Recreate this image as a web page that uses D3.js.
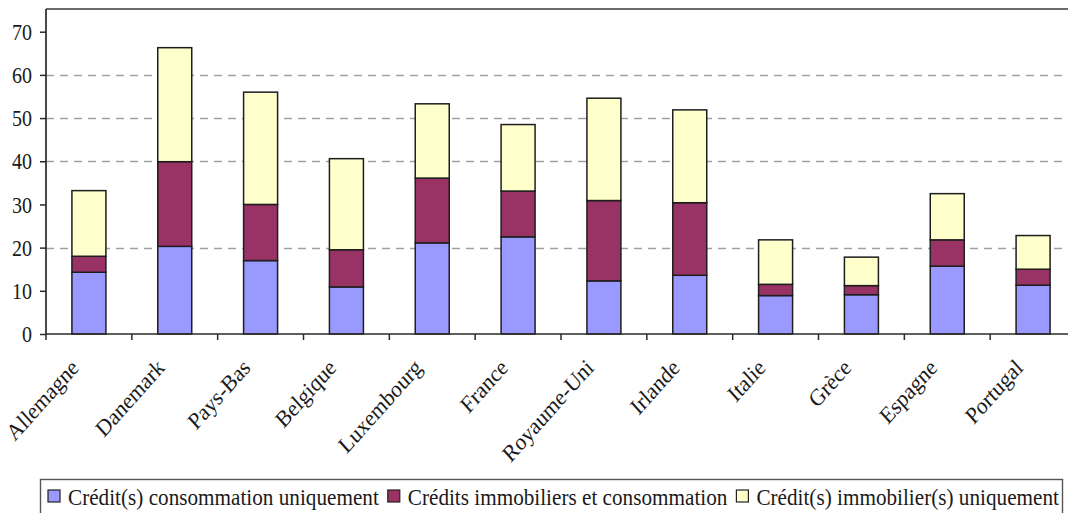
<!DOCTYPE html>
<html>
<head>
<meta charset="utf-8">
<script src="https://cdn.jsdelivr.net/npm/d3@7"></script>
<style>
  html, body { margin: 0; padding: 0; background: #fff; }
  svg { display: block; }
</style>
</head>
<body>
<svg id="chart" width="1068" height="513"></svg>
<script>
// Share of households by type of credit held, per country (%)
const categories = ["Allemagne", "Danemark", "Pays-Bas", "Belgique", "Luxembourg", "France",
                    "Royaume-Uni", "Irlande", "Italie", "Grèce", "Espagne", "Portugal"];
const consoOnly   = [14.3, 20.3, 17.0, 10.9, 21.1, 22.5, 12.3, 13.6, 8.9, 9.1, 15.7, 11.3];
const immoEtConso = [3.7, 19.6, 13.0, 8.6, 15.0, 10.6, 18.6, 16.8, 2.6, 2.1, 6.1, 3.7];
const immoOnly    = [15.2, 26.4, 26.0, 21.1, 17.2, 15.4, 23.7, 21.5, 10.3, 6.6, 10.7, 7.8];
const seriesNames = ["Crédit(s) consommation uniquement",
                     "Crédits immobiliers et consommation",
                     "Crédit(s) immobilier(s) uniquement"];
const seriesColors = ["#9999ff", "#993366", "#ffffcc"];
const yTicks = [0, 10, 20, 30, 40, 50, 60, 70];
const gridValues = [20, 40, 50, 60];

const FONT = "'Liberation Serif'";
const STRETCH = 1.12;   // text is drawn slightly taller than wide

const svg = d3.select("#chart");
const W = 1068;

// plot frame
const plot = { left: 46, right: 1076, top: 9, bottom: 334 };

const x = d3.scaleBand()
  .domain(categories)
  .range([plot.left, plot.right])
  .paddingInner(0.604)
  .paddingOuter(0.302);

const y = d3.scaleLinear()
  .domain([0, 70])
  .range([plot.bottom, 31.7]);

const keys = ["conso", "both", "immo"];
const rows = categories.map((c, i) => ({
  cat: c, conso: consoOnly[i], both: immoEtConso[i], immo: immoOnly[i]
}));
const stacked = d3.stack().keys(keys)(rows);

// dashed gridlines
svg.append("g")
  .selectAll("line")
  .data(gridValues)
  .join("line")
  .attr("x1", plot.left)
  .attr("x2", W)
  .attr("y1", d => Math.round(y(d)) + 0.5)
  .attr("y2", d => Math.round(y(d)) + 0.5)
  .attr("stroke", "#a0a0a0")
  .attr("stroke-width", 1.4)
  .attr("stroke-dasharray", "8,6");

// stacked bars
svg.append("g")
  .selectAll("g")
  .data(stacked)
  .join("g")
  .attr("fill", (d, i) => seriesColors[i])
  .selectAll("rect")
  .data(d => d)
  .join("rect")
  .attr("x", d => x(d.data.cat))
  .attr("width", x.bandwidth())
  .attr("y", d => y(d[1]))
  .attr("height", d => y(d[0]) - y(d[1]))
  .attr("stroke", "#1e1e1e")
  .attr("stroke-width", 1.5);

// top border of the plot area
svg.append("line")
  .attr("x1", plot.left).attr("x2", W)
  .attr("y1", plot.top).attr("y2", plot.top)
  .attr("stroke", "#3a3a3a").attr("stroke-width", 1.7);

// y axis
const yAxis = d3.axisLeft(y).tickValues(yTicks).tickSize(6).tickPadding(8);
const gy = svg.append("g")
  .attr("transform", `translate(${plot.left},0)`)
  .call(yAxis);
gy.select(".domain").remove();
gy.append("line")
  .attr("x1", 0).attr("x2", 0)
  .attr("y1", plot.top).attr("y2", plot.bottom)
  .attr("stroke", "#2a2a2a").attr("stroke-width", 1.7);
gy.selectAll(".tick line").attr("stroke", "#2a2a2a").attr("stroke-width", 1.5);
gy.selectAll(".tick text")
  .attr("transform", `scale(1,${STRETCH})`)
  .attr("dy", "0.34em")
  .style("font-family", FONT)
  .style("font-size", "20px")
  .style("fill", "#1a1a1a");

// x axis: baseline, tick marks between categories
const gx = svg.append("g");
gx.append("line")
  .attr("x1", plot.left).attr("x2", W)
  .attr("y1", plot.bottom).attr("y2", plot.bottom)
  .attr("stroke", "#2a2a2a").attr("stroke-width", 1.7);
const boundaries = categories.map(c => x(c) - x.step() * x.paddingOuter());
gx.selectAll("line.tk")
  .data(boundaries)
  .join("line")
  .attr("class", "tk")
  .attr("x1", d => d).attr("x2", d => d)
  .attr("y1", plot.bottom).attr("y2", plot.bottom + 6)
  .attr("stroke", "#2a2a2a").attr("stroke-width", 1.5);

// rotated category labels
gx.selectAll("text")
  .data(categories)
  .join("text")
  .attr("transform", d =>
    `translate(${x(d) + x.bandwidth() / 2 - 9},${plot.bottom + 35}) scale(1,${STRETCH}) rotate(-45)`)
  .attr("text-anchor", "end")
  .style("font-family", FONT)
  .style("font-size", "21px")
  .style("fill", "#1a1a1a")
  .text(d => d);

// legend
const lg = svg.append("g");
lg.append("rect")
  .attr("x", 40.5).attr("y", 479.5)
  .attr("width", 1022).attr("height", 40)
  .attr("fill", "#fff")
  .attr("stroke", "#555").attr("stroke-width", 1.4);

let lx = 48;
seriesNames.forEach((name, i) => {
  lg.append("rect")
    .attr("x", lx).attr("y", 490)
    .attr("width", 12).attr("height", 12)
    .attr("fill", seriesColors[i])
    .attr("stroke", "#222").attr("stroke-width", 1.2);
  const t = lg.append("text")
    .attr("transform", `translate(${lx + 20},505) scale(1,${STRETCH})`)
    .style("font-family", FONT)
    .style("font-size", "21.2px")
    .style("fill", "#1a1a1a")
    .text(name);
  lx = lx + 20 + t.node().getComputedTextLength() + 9;
});
</script>
</body>
</html>
